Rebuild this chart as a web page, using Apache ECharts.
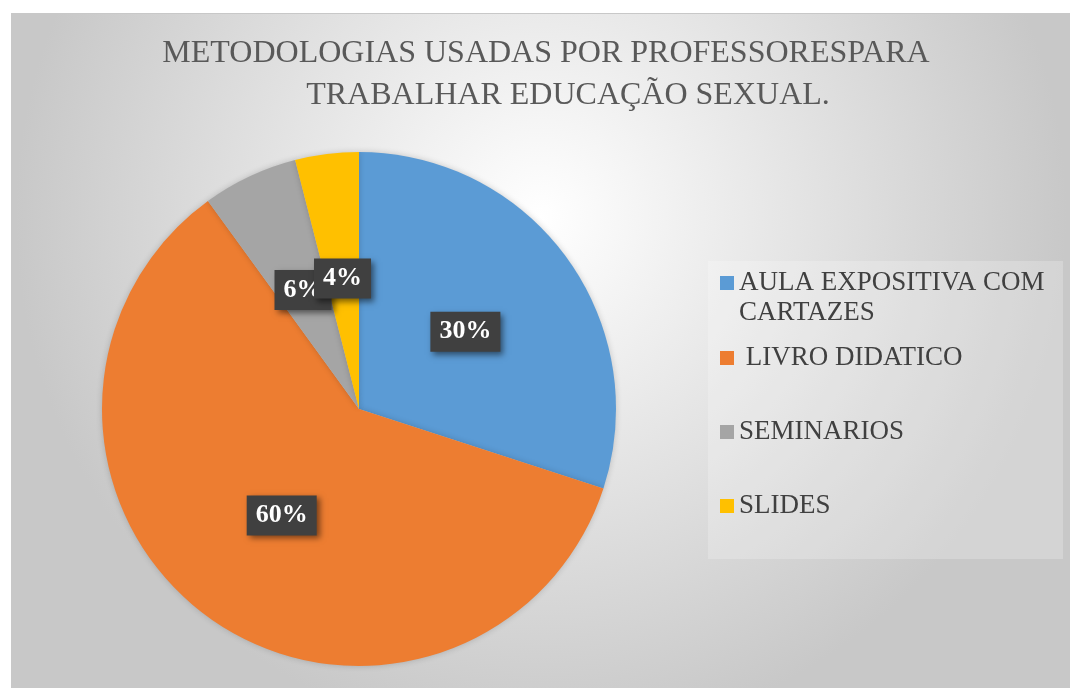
<!DOCTYPE html>
<html>
<head>
<meta charset="utf-8">
<title>Metodologias</title>
<script src="https://cdn.jsdelivr.net/npm/echarts@6/dist/echarts.min.js"></script>
<style>
    html, body { margin: 0; padding: 0; background: #fff; }
    #chart { position: absolute; left: 11px; top: 13px; width: 1059px; height: 675px; border-top: 1px solid #c8c8c8; border-left: 1px solid #c8c8c8; box-sizing: border-box; }
</style>
</head>
<body>
<div id="chart"></div>
<script>
    var categories = ['AULA EXPOSITIVA COM\nCARTAZES', ' LIVRO DIDATICO', 'SEMINARIOS', 'SLIDES'];
    var values = [30, 60, 6, 4];
    var colors = ['#5B9BD5', '#ED7D31', '#A5A5A5', '#FFC000'];
    var titleLines = ['METODOLOGIAS USADAS POR PROFESSORESPARA', 'TRABALHAR EDUCAÇÃO SEXUAL.'];

    var serif = '"Liberation Serif", "Times New Roman", serif';
    var myChart = echarts.init(document.getElementById('chart'));

    var legendText = {
        fontFamily: serif,
        fontSize: 27,
        lineHeight: 30,
        color: '#404040'
    };

    var option = {
        animation: false,
        backgroundColor: {
            type: 'radial',
            x: 0.5,
            y: 0.3,
            r: 0.78,
            colorStops: [
                { offset: 0, color: '#ffffff' },
                { offset: 1, color: '#c8c8c8' }
            ]
        },
        color: colors,
        graphic: [{
            type: 'rect',
            z: 0,
            shape: { x: 696, y: 247, width: 355, height: 298 },
            style: { fill: 'rgba(255,255,255,0.22)' }
        }, {
            type: 'text',
            x: 534,
            y: 40,
            style: {
                text: titleLines[0],
                font: '32px ' + serif,
                fill: '#595959',
                align: 'center',
                verticalAlign: 'middle'
            }
        }, {
            type: 'text',
            x: 556,
            y: 82,
            style: {
                text: titleLines[1],
                font: '32px ' + serif,
                fill: '#595959',
                align: 'center',
                verticalAlign: 'middle'
            }
        }],
        legend: [{
            // first entry has two lines: empty line on top keeps the icon on line one
            orient: 'vertical',
            left: 708,
            top: 224,
            padding: 0,
            itemWidth: 14,
            itemHeight: 14,
            icon: 'rect',
            data: [categories[0]],
            formatter: function (name) { return '\n' + name; },
            textStyle: legendText
        }, {
            orient: 'vertical',
            left: 708,
            top: 329,
            padding: 0,
            itemGap: 44,
            itemWidth: 14,
            itemHeight: 14,
            icon: 'rect',
            data: categories.slice(1),
            textStyle: legendText
        }],
        series: [{
            type: 'pie',
            center: [347, 395],
            radius: 257,
            startAngle: 90,
            clockwise: true,
            avoidLabelOverlap: false,
            labelLayout: { hideOverlap: false },
            itemStyle: {
                shadowBlur: 6,
                shadowColor: 'rgba(0,0,0,0.18)'
            },
            label: {
                show: true,
                position: 'inside',
                formatter: function (p) { return Math.round(p.percent) + '%'; },
                color: '#fff',
                fontFamily: serif,
                fontWeight: 'bold',
                fontSize: 26,
                lineHeight: 26,
                backgroundColor: '#404040',
                padding: [7, 9],
                shadowColor: 'rgba(0,0,0,0.5)',
                shadowBlur: 6,
                shadowOffsetX: 3,
                shadowOffsetY: 3
            },
            labelLine: { show: false },
            emphasis: { disabled: true },
            data: categories.map(function (name, i) {
                return { name: name, value: values[i] };
            })
        }]
    };
    myChart.setOption(option);
</script>
</body>
</html>
